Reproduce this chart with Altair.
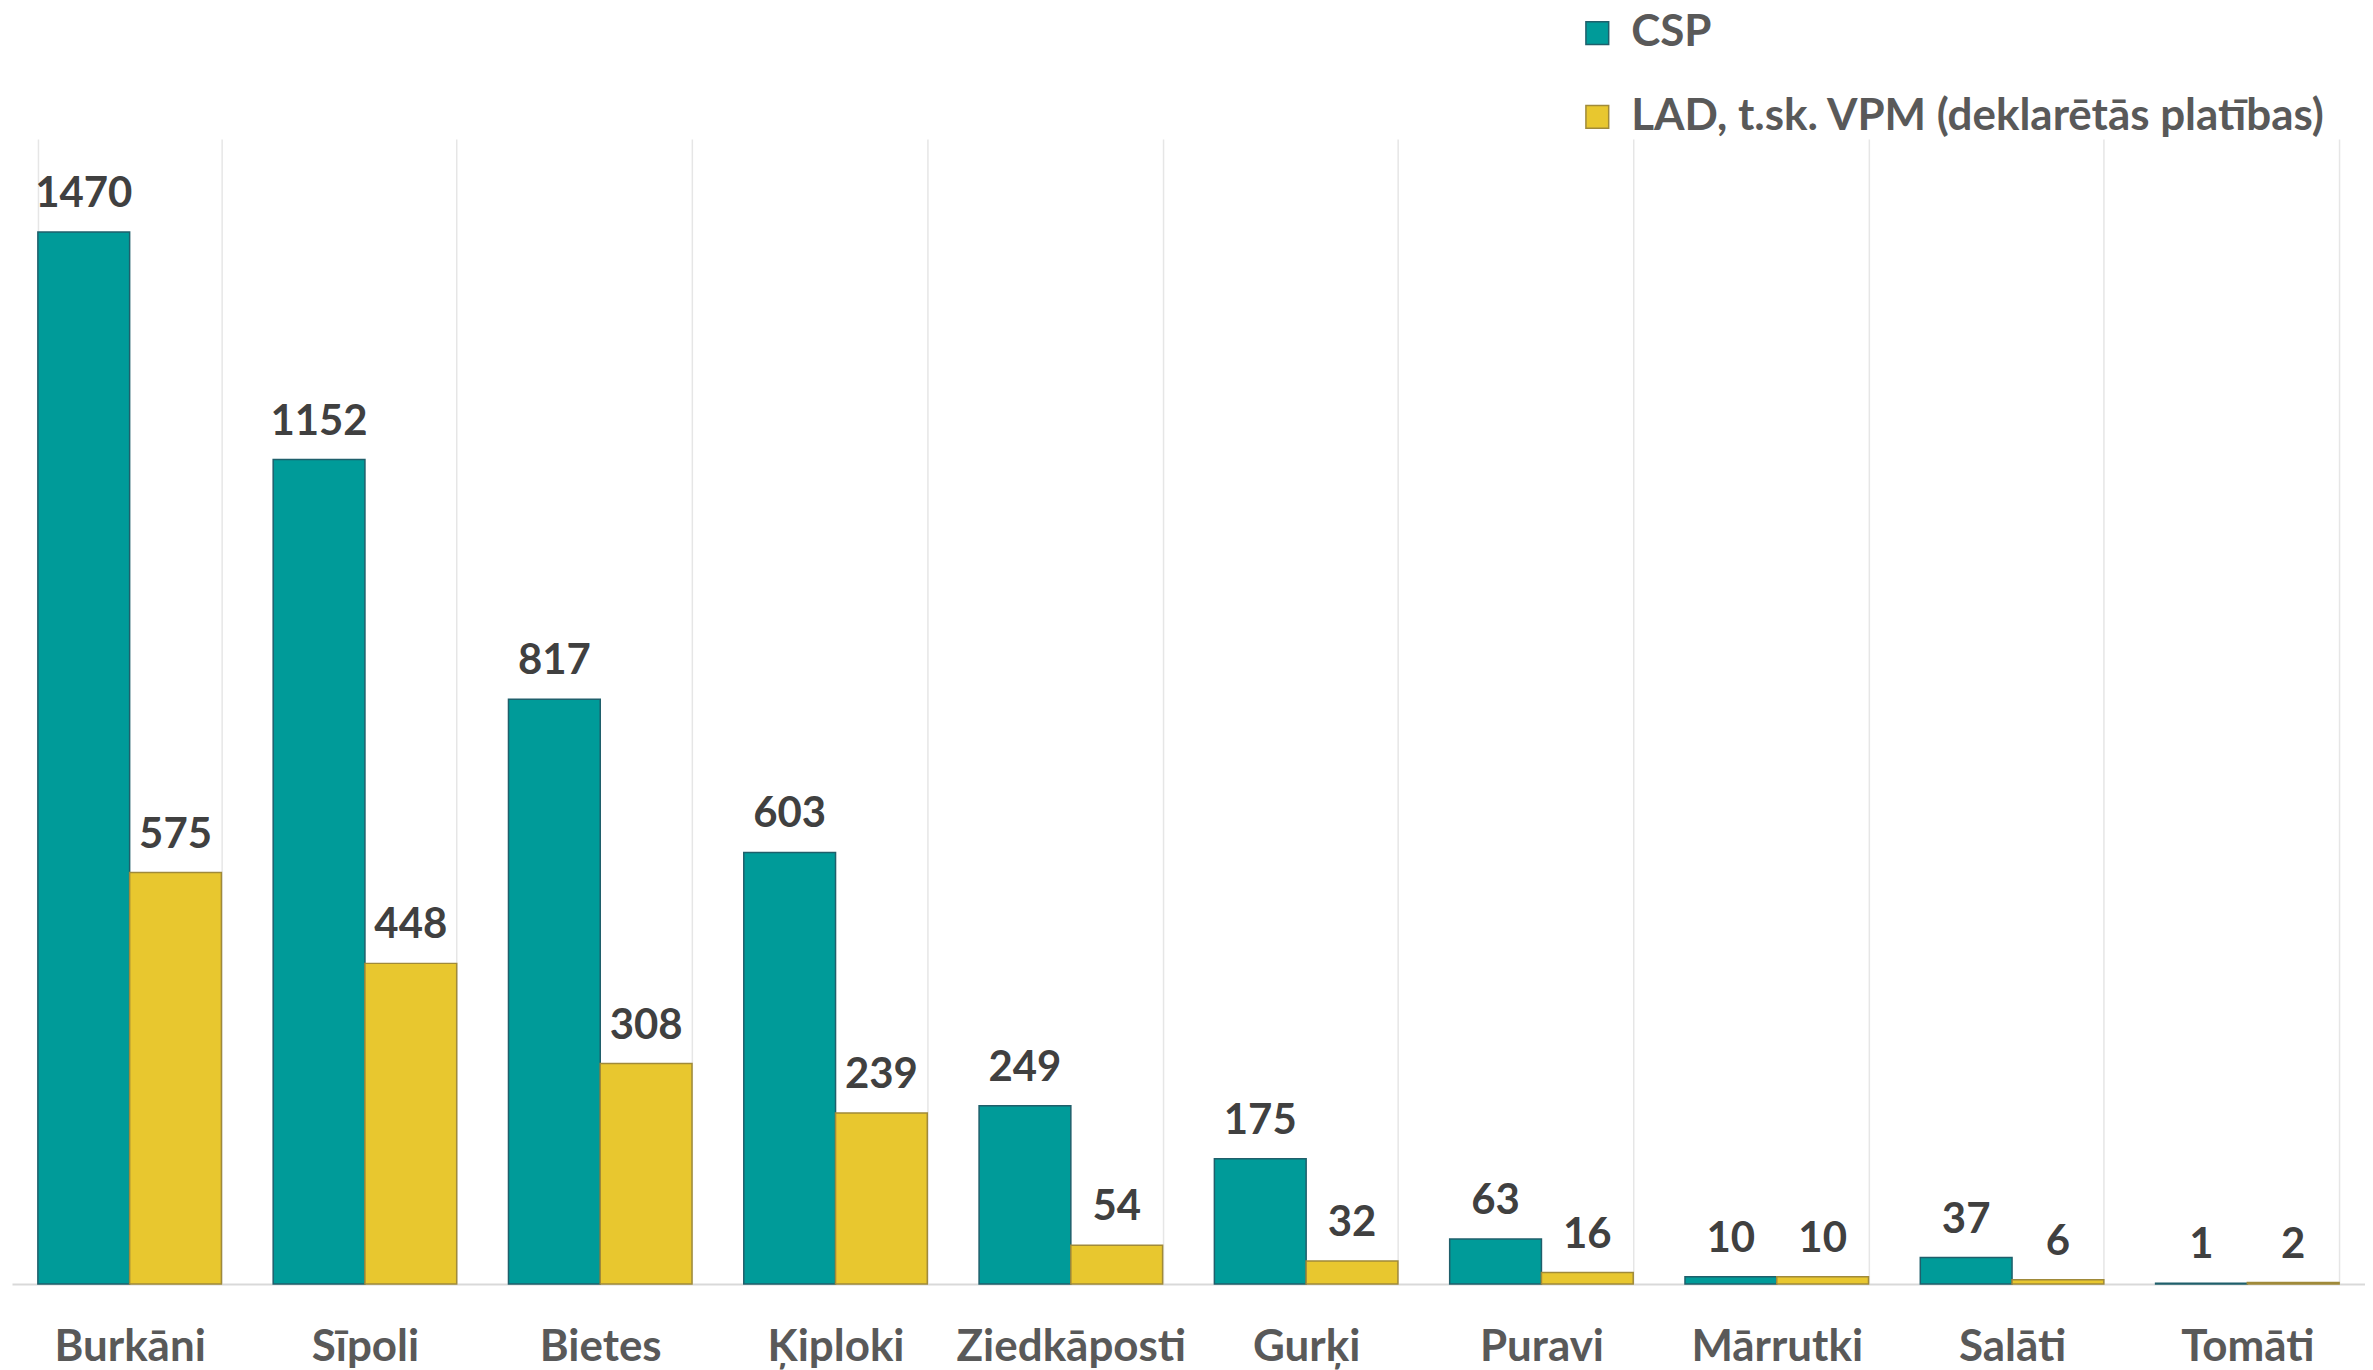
import altair as alt
import pandas as pd

categories = ["Burkāni", "Sīpoli", "Bietes", "Ķiploki", "Ziedkāposti", "Gurķi", "Puravi", "Mārrutki", "Salāti", "Tomāti"]
series = ["CSP", "LAD, t.sk. VPM (deklarētās platības)"]
csp = [1470, 1152, 817, 603, 249, 175, 63, 10, 37, 1]
lad = [575, 448, 308, 239, 54, 32, 16, 10, 6, 2]

rows = []
for c, a, b in zip(categories, csp, lad):
    rows.append({"cat": c, "series": series[0], "value": a})
    rows.append({"cat": c, "series": series[1], "value": b})
df = pd.DataFrame(rows)

FONT = "Lato"

x = alt.X("cat:N", sort=categories, title=None,
          scale=alt.Scale(paddingInner=0.22, paddingOuter=0.11),
          axis=alt.Axis(labelAngle=0, labelFontSize=44, labelFont=FONT, labelFontWeight="bold",
                        labelColor="#595959", labelPadding=42, labelLimit=500, ticks=False,
                        domainColor="#D9D9D9", domainWidth=2,
                        grid=True, tickBand="extent", gridColor="#E6E6E6", gridWidth=1.5))
xo = alt.XOffset("series:N", sort=series, scale=alt.Scale(paddingInner=0, paddingOuter=0))
y = alt.Y("value:Q", scale=alt.Scale(domain=[0, 1600], nice=False), axis=None)

bars = alt.Chart(df).mark_bar(strokeWidth=1.5).encode(
    x=x, xOffset=xo, y=y,
    color=alt.Color("series:N", sort=series, title=None,
                    scale=alt.Scale(domain=series, range=["#009B99", "#E8C72F"]),
                    legend=alt.Legend(orient="none", legendX=1566, legendY=-128,
                                      labelFont=FONT, labelFontSize=44, labelFontWeight="bold",
                                      labelColor="#595959", symbolType="square", symbolSize=520,
                                      rowPadding=40, labelLimit=1000, labelOffset=12,
                                      symbolStrokeWidth=1.5)),
    stroke=alt.Stroke("series:N", sort=series, title=None,
                      scale=alt.Scale(domain=series, range=["#1F5F6B", "#A08A3A"]),
                      legend=None),
)

labels = alt.Chart(df).mark_text(dy=-16, baseline="bottom", font=FONT, fontSize=42,
                                 fontWeight="bold", color="#404040").encode(
    x=x, xOffset=xo, y=y, text="value:Q"
)

chart = (bars + labels).properties(
    width=2357, height=1147,
    padding={"left": 4, "top": 2, "right": 0, "bottom": 0},
).configure_view(stroke=None).configure_legend(symbolStrokeColor="#555555")

chart.save("out.html", embed_options={"renderer": "svg", "actions": False})
